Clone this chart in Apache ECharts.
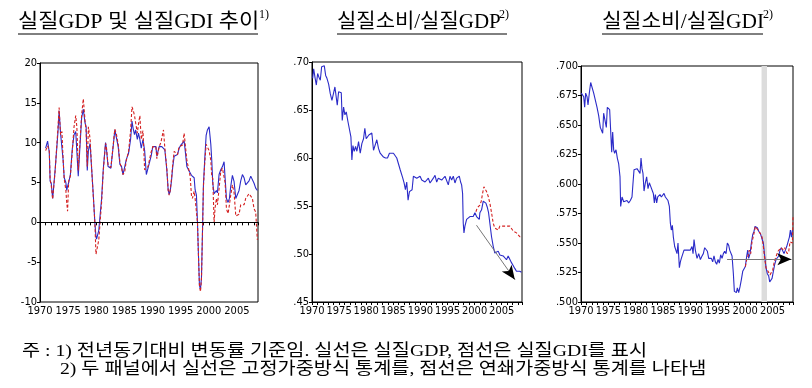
<!DOCTYPE html>
<html><head><meta charset="utf-8">
<script src="https://cdn.jsdelivr.net/npm/echarts@6/dist/echarts.min.js"></script>
<style>html,body{margin:0;padding:0;background:#fff}#c{width:812px;height:388px}</style>
</head><body><div id="c"></div>
<script>
// ---------- Panel 1: real GDP / real GDI growth (yoy, %) ----------
const p1Years = [1971.0,1971.35,1971.65,1971.8,1972.0,1972.25,1972.5,1972.7,1973.0,1973.2,1973.4,1973.65,1973.9,1974.1,1974.3,1974.6,1974.75,1974.9,1975.1,1975.4,1975.75,1976.05,1976.35,1976.55,1976.8,1977.1,1977.4,1977.7,1978.0,1978.2,1978.4,1978.6,1978.9,1979.2,1979.45,1979.75,1979.95,1980.05,1980.45,1980.95,1981.25,1981.65,1981.8,1982.1,1982.6,1983.0,1983.3,1983.6,1983.9,1984.2,1984.5,1984.75,1985.05,1985.35,1985.75,1986.1,1986.35,1986.55,1986.8,1987.0,1987.3,1987.5,1987.75,1988.0,1988.3,1988.6,1988.9,1989.2,1989.75,1990.05,1990.3,1990.6,1990.77,1991.18,1991.48,1991.66,1991.95,1992.19,1992.54,1992.78,1992.96,1993.14,1993.37,1993.6,1993.85,1994.14,1994.44,1994.73,1995.03,1995.33,1995.62,1995.8,1996.1,1996.39,1996.69,1996.92,1997.1,1997.4,1997.57,1997.81,1997.99,1998.17,1998.34,1998.52,1998.7,1998.88,1999.05,1999.29,1999.53,1999.76,2000.06,2000.36,2000.53,2000.71,2000.95,2001.12,2001.36,2001.54,2001.83,2002.13,2002.43,2002.72,2002.9,2003.14,2003.43,2003.67,2003.9,2004.2,2004.5,2004.8,2005.09,2005.38,2005.68,2005.98,2006.27,2006.57,2006.86,2007.16,2007.46,2007.75,2008.05,2008.34,2008.64];
const p1GDP = [9.3,10.2,8.8,5.2,4.9,3.0,3.0,6.7,9.5,11.4,14.0,11.2,11.2,7.9,5.6,5.0,4.0,4.5,5.0,6.0,9.3,11.0,11.4,11.4,5.8,9.5,13.1,14.2,12.5,12.0,6.5,9.0,9.9,6.5,3.7,0.0,-1.8,-2.1,-1.0,3.0,6.7,10.0,9.3,7.0,6.8,9.5,11.6,11.4,9.5,7.3,7.0,6.0,6.2,7.9,8.7,10.4,12.7,11.8,11.0,11.6,10.4,11.2,10.4,9.3,10.4,9.0,6.0,6.8,8.3,9.5,9.5,9.5,8.3,9.5,9.5,9.5,9.3,9.1,6.6,4.1,3.5,3.9,5.2,7.0,8.3,8.1,8.5,9.3,9.7,9.5,10.2,9.1,7.0,6.6,6.8,5.9,6.1,5.6,4.1,3.4,0.0,-4.2,-7.9,-8.4,-7.0,-1.2,4.7,8.0,10.9,11.6,12.0,9.8,7.8,4.9,3.6,3.7,4.0,3.7,6.0,6.6,7.0,7.6,5.6,3.0,2.5,3.0,4.5,5.9,5.1,3.0,3.0,4.0,5.2,6.0,5.6,4.7,4.5,5.2,5.8,5.6,4.9,4.3,4.0];
const p1GDI = [9.0,9.6,9.0,5.4,4.6,2.9,3.0,6.5,9.8,12.0,14.4,11.0,11.4,8.0,5.5,4.0,2.5,1.4,5.2,5.8,9.0,12.0,13.4,12.0,6.5,10.0,13.5,15.5,12.8,11.5,7.0,12.0,10.5,6.5,3.5,0.0,-4.0,-3.8,-2.2,2.5,6.5,9.9,9.5,7.2,6.9,9.6,11.7,11.0,9.8,7.5,6.8,6.0,6.3,7.8,8.9,11.5,14.5,14.1,13.4,12.5,11.2,12.3,13.4,10.4,11.5,6.6,6.6,7.0,8.8,9.5,9.5,9.5,8.0,9.5,10.0,10.2,11.6,9.3,6.8,4.0,3.4,4.0,5.4,7.4,8.9,9.0,8.5,9.5,9.7,9.7,11.2,9.9,7.8,6.8,5.8,3.4,3.0,3.9,3.0,3.0,0.0,-4.2,-7.9,-8.7,-7.2,-1.4,4.5,7.5,9.8,9.7,9.0,7.8,5.8,5.5,0.0,1.8,3.0,2.2,4.2,6.4,6.8,6.6,5.0,1.7,1.1,2.2,3.4,4.7,3.7,0.8,0.8,1.0,2.2,2.0,2.2,3.0,2.8,3.6,3.8,3.0,1.7,1.3,-2.2];

// ---------- Panel 2: real consumption / real GDP ----------
const p2Years = [1970.12,1970.31,1970.55,1970.80,1971.04,1971.29,1971.53,1971.78,1972.02,1972.27,1972.52,1972.76,1973.07,1973.37,1973.68,1973.99,1974.23,1974.48,1974.66,1974.91,1975.21,1975.40,1975.58,1975.83,1976.07,1976.32,1976.63,1976.93,1977.18,1977.36,1977.55,1977.79,1978.04,1978.28,1978.59,1978.90,1979.20,1979.51,1979.75,1980.00,1980.25,1980.49,1980.74,1981.04,1981.35,1981.66,1981.96,1982.27,1982.58,1982.88,1983.19,1983.56,1983.93,1984.29,1984.60,1985.03,1985.34,1985.64,1985.95,1986.26,1986.50,1986.75,1986.99,1987.24,1987.48,1987.73,1987.98,1988.22,1988.47,1988.71,1989.02,1989.33,1989.63,1989.94,1990.25,1990.55,1990.86,1991.17,1991.47,1991.78,1992.09,1992.39,1992.70,1993.01,1993.31,1993.62,1993.93,1994.23,1994.54,1994.85,1995.15,1995.46,1995.77,1996.07,1996.38,1996.69,1996.99,1997.18,1997.42,1997.61,1997.79,1997.91,1998.04,1998.22,1998.53,1998.83,1999.14,1999.45,1999.75,2000.06,2000.37,2000.61,2000.86,2000.98,2001.29,2001.60,2001.78,2002.09,2002.33,2002.58,2002.82,2003.13,2003.44,2003.74,2004.05,2004.36,2004.66,2004.97,2005.28,2005.58,2005.89,2006.20,2006.50,2006.81,2007.12,2007.42,2007.73,2008.04,2008.34,2008.65];
const p2Fixed = [0.683,0.693,0.684,0.676,0.688,0.684,0.681,0.695,0.697,0.696,0.686,0.683,0.677,0.667,0.660,0.658,0.674,0.672,0.655,0.669,0.669,0.668,0.639,0.653,0.645,0.648,0.638,0.636,0.622,0.598,0.613,0.607,0.612,0.607,0.617,0.605,0.615,0.620,0.631,0.620,0.621,0.624,0.622,0.626,0.608,0.610,0.619,0.610,0.605,0.603,0.601,0.600,0.600,0.605,0.605,0.605,0.603,0.600,0.594,0.588,0.589,0.579,0.574,0.567,0.575,0.556,0.565,0.563,0.567,0.581,0.581,0.579,0.581,0.581,0.577,0.579,0.575,0.577,0.579,0.574,0.575,0.579,0.582,0.575,0.579,0.581,0.577,0.575,0.581,0.579,0.572,0.581,0.577,0.581,0.574,0.579,0.577,0.581,0.575,0.572,0.563,0.532,0.522,0.529,0.536,0.534,0.539,0.541,0.539,0.543,0.539,0.541,0.536,0.543,0.546,0.555,0.556,0.553,0.549,0.543,0.532,0.518,0.508,0.501,0.501,0.503,0.499,0.499,0.498,0.496,0.494,0.498,0.496,0.491,0.489,0.485,0.482,0.483,0.482,0.481];
const p2ChainYears = [2000.25,2000.49,2000.74,2000.98,2001.23,2001.47,2001.72,2001.96,2002.21,2002.52,2002.82,2003.13,2003.44,2003.74,2004.05,2004.36,2004.66,2004.97,2005.28,2005.58,2005.89,2006.20,2006.50,2006.81,2007.12,2007.42,2007.73,2008.04,2008.34,2008.65];
const p2Chain = [0.544,0.548,0.549,0.551,0.555,0.563,0.570,0.569,0.565,0.560,0.553,0.543,0.532,0.527,0.525,0.525,0.529,0.530,0.529,0.529,0.529,0.527,0.529,0.527,0.524,0.522,0.522,0.520,0.518,0.518];
const p2Arrow = [[2000.35, 0.530], [2007.42, 0.4734]];

// ---------- Panel 3: real consumption / real GDI ----------
const p3Years = [1970.06,1970.24,1970.49,1970.67,1970.85,1971.10,1971.28,1971.52,1971.77,1972.01,1972.32,1972.62,1972.93,1973.23,1973.53,1973.72,1973.96,1974.14,1974.45,1974.63,1974.81,1975.06,1975.24,1975.42,1975.61,1975.79,1975.97,1976.15,1976.40,1976.64,1976.89,1977.13,1977.25,1977.50,1977.80,1978.10,1978.41,1978.71,1979.02,1979.32,1979.51,1979.69,1979.93,1980.24,1980.54,1980.79,1980.97,1981.15,1981.33,1981.52,1981.76,1982.00,1982.25,1982.49,1982.74,1982.98,1983.22,1983.41,1983.59,1983.83,1984.02,1984.20,1984.44,1984.69,1984.93,1985.17,1985.42,1985.66,1985.90,1986.15,1986.33,1986.51,1986.70,1986.88,1987.12,1987.37,1987.55,1987.73,1987.98,1988.16,1988.34,1988.59,1988.83,1989.07,1989.38,1989.68,1989.99,1990.29,1990.48,1990.66,1990.90,1991.21,1991.51,1991.82,1992.12,1992.36,1992.61,1992.85,1993.10,1993.34,1993.58,1993.83,1994.07,1994.31,1994.56,1994.80,1995.05,1995.29,1995.53,1995.78,1996.02,1996.26,1996.51,1996.75,1997.00,1997.18,1997.36,1997.61,1997.85,1998.03,1998.21,1998.40,1998.58,1998.82,1999.07,1999.31,1999.56,1999.80,2000.04,2000.29,2000.47,2000.65,2000.90,2001.14,2001.38,2001.63,2001.81,2001.99,2002.24,2002.48,2002.79,2003.09,2003.33,2003.58,2003.82,2004.06,2004.31,2004.49,2004.67,2004.92,2005.16,2005.41,2005.65,2005.89,2006.14,2006.38,2006.62,2006.87,2007.11,2007.36,2007.60,2007.84,2008.09,2008.27,2008.46,2008.64];
const p3Fixed = [0.677,0.678,0.674,0.665,0.677,0.674,0.667,0.677,0.686,0.685,0.677,0.671,0.665,0.658,0.648,0.648,0.643,0.660,0.661,0.648,0.665,0.664,0.663,0.664,0.627,0.644,0.629,0.626,0.629,0.622,0.617,0.606,0.581,0.589,0.585,0.585,0.586,0.584,0.586,0.589,0.601,0.612,0.612,0.613,0.613,0.609,0.622,0.613,0.609,0.594,0.601,0.606,0.596,0.601,0.598,0.598,0.592,0.584,0.591,0.584,0.589,0.588,0.591,0.589,0.589,0.592,0.589,0.589,0.586,0.581,0.567,0.561,0.565,0.555,0.547,0.546,0.541,0.550,0.529,0.534,0.537,0.536,0.544,0.543,0.544,0.543,0.544,0.547,0.541,0.553,0.544,0.537,0.541,0.536,0.539,0.541,0.546,0.547,0.543,0.537,0.537,0.537,0.534,0.539,0.534,0.532,0.536,0.533,0.540,0.537,0.541,0.543,0.541,0.550,0.548,0.544,0.543,0.539,0.524,0.509,0.508,0.508,0.512,0.508,0.513,0.519,0.526,0.527,0.530,0.539,0.544,0.537,0.541,0.550,0.557,0.560,0.564,0.563,0.563,0.560,0.558,0.557,0.550,0.539,0.529,0.524,0.522,0.517,0.517,0.520,0.526,0.532,0.536,0.537,0.539,0.544,0.546,0.546,0.541,0.544,0.547,0.546,0.555,0.561,0.555,0.561];
const p3ChainYears = [2000.04,2000.29,2000.53,2000.77,2001.02,2001.26,2001.57,2001.87,2002.18,2002.48,2002.79,2003.09,2003.33,2003.58,2003.82,2004.06,2004.31,2004.55,2004.80,2005.04,2005.28,2005.53,2005.77,2006.01,2006.26,2006.50,2006.75,2007.00,2007.24,2007.48,2007.72,2007.97,2008.21,2008.46,2008.64,2008.75];
const p3Chain = [0.530,0.536,0.539,0.544,0.541,0.551,0.557,0.564,0.563,0.560,0.558,0.555,0.547,0.537,0.529,0.527,0.526,0.523,0.522,0.527,0.533,0.537,0.540,0.543,0.544,0.546,0.547,0.544,0.546,0.543,0.541,0.543,0.551,0.551,0.550,0.572];
const p3Shade = [2003.0, 2004.0];
const p3Arrow = [[1996.7, 0.5363], [2008.45, 0.5363]];

// ---------- Text ----------
const titles = ['실질GDP 및 실질GDI 추이', '실질소비/실질GDP', '실질소비/실질GDI'];
const titleSups = ['1)', '2)', '2)'];
const notes = ['주 : 1) 전년동기대비 변동률 기준임. 실선은 실질GDP, 점선은 실질GDI를 표시',
               '2) 두 패널에서 실선은 고정가중방식 통계를, 점선은 연쇄가중방식 통계를 나타냄'];

const BLUE = '#2b2bc8', RED = '#d42020';
const NUM = "'Liberation Sans Narrow','DejaVu Sans Condensed',sans-serif";
const SERIF = "'Liberation Serif','Noto Sans CJK KR',serif";

const pairs = (xs, ys) => xs.map((x, i) => [x, ys[i]]);

const grids = [
  {left: 40, top: 63, width: 218, height: 239},
  {left: 312, top: 62, width: 210, height: 240},
  {left: 581, top: 66, width: 212, height: 236}
].map(g => Object.assign({show: true, borderColor: '#000', borderWidth: 1, backgroundColor: 'transparent'}, g));

function xAx(i) {
  return {
    type: 'value', gridIndex: i, min: 1970, max: 2008.75, interval: 1,
    axisLine: {lineStyle: {color: '#000', width: 1}},
    axisTick: {show: true, length: 3, lineStyle: {color: '#000'}},
    splitLine: {show: false},
    axisLabel: {color: '#000', fontFamily: NUM, fontSize: 11, margin: 4,
      formatter: v => (Math.abs(v % 5) < 1e-6 ? String(v) : '')}
  };
}
function yAx(i, min, max, interval, fmt) {
  return {
    type: 'value', gridIndex: i, min, max, interval,
    axisLine: {show: true, lineStyle: {color: '#000', width: 1}},
    axisTick: {show: true, length: 3, lineStyle: {color: '#000'}},
    splitLine: {show: false},
    axisLabel: {color: '#000', fontFamily: NUM, fontSize: 11, margin: 3, formatter: fmt}
  };
}
const dec = n => v => v.toFixed(n).replace(/^0/, '');

function arrowLines(arr) {
  const [a, b] = arr;
  const t = 0.12;
  const h = [a[0] + (b[0] - a[0]) * (1 - t), a[1] + (b[1] - a[1]) * (1 - t)];
  return [
    [{coord: a, symbol: 'none', lineStyle: {color: '#777', width: 1, type: 'solid'}},
     {coord: b, symbol: 'none'}],
    [{coord: h, symbol: 'none', lineStyle: {color: '#000', width: 0.5, type: 'solid'}},
     {coord: b, symbol: 'arrow'}]
  ];
}

const lineBase = {type: 'line', showSymbol: false, symbol: 'none', animation: false, smooth: false};

const series = [
  Object.assign({}, lineBase, {name: 'GDP', xAxisIndex: 0, yAxisIndex: 0, data: pairs(p1Years, p1GDP),
    lineStyle: {color: BLUE, width: 1.1}, z: 3,
    markLine: {silent: true, symbol: 'none', label: {show: false}, animation: false,
      lineStyle: {color: '#000', width: 1, type: 'solid'}, data: [{yAxis: 0}]}}),
  Object.assign({}, lineBase, {name: 'GDI', xAxisIndex: 0, yAxisIndex: 0, data: pairs(p1Years, p1GDI),
    lineStyle: {color: RED, width: 1.1, type: [3, 2]}, z: 4}),
  Object.assign({}, lineBase, {name: 'C/GDP fixed', xAxisIndex: 1, yAxisIndex: 1, data: pairs(p2Years, p2Fixed),
    lineStyle: {color: BLUE, width: 1.1}, z: 3,
    markLine: {silent: true, label: {show: false}, animation: false, symbolSize: [9, 14],
      data: arrowLines(p2Arrow)}}),
  Object.assign({}, lineBase, {name: 'C/GDP chain', xAxisIndex: 1, yAxisIndex: 1, data: pairs(p2ChainYears, p2Chain),
    lineStyle: {color: RED, width: 1.1, type: [3, 2]}, z: 4}),
  Object.assign({}, lineBase, {name: 'C/GDI fixed', xAxisIndex: 2, yAxisIndex: 2, data: pairs(p3Years, p3Fixed),
    lineStyle: {color: BLUE, width: 1.1}, z: 3,
    markArea: {silent: true, itemStyle: {color: '#dcdcdc'}, data: [[{xAxis: p3Shade[0]}, {xAxis: p3Shade[1]}]]},
    markLine: {silent: true, label: {show: false}, animation: false, symbolSize: [9, 14],
      data: arrowLines(p3Arrow)}}),
  Object.assign({}, lineBase, {name: 'C/GDI chain', xAxisIndex: 2, yAxisIndex: 2, data: pairs(p3ChainYears, p3Chain),
    lineStyle: {color: RED, width: 1.1, type: [3, 2]}, z: 4})
];

const titlePos = [
  {x: 18, y: 13, sc: 1.1, ux: [18, 258], sx: 259},
  {x: 337, y: 13, sc: 1.05, ux: [337, 507], sx: 499},
  {x: 602, y: 13, sc: 1.07, ux: [602, 763], sx: 763}
];
const graphic = [];
titles.forEach((t, i) => {
  const p = titlePos[i];
  graphic.push({type: 'text', x: p.x, y: p.y, scaleX: p.sc,
    style: {text: t, font: `20px ${SERIF}`, fill: '#000', textVerticalAlign: 'top'}});
  graphic.push({type: 'text', x: p.sx, y: p.y - 4,
    style: {text: titleSups[i], font: `12px ${SERIF}`, fill: '#000', textVerticalAlign: 'top'}});
  graphic.push({type: 'line', shape: {x1: p.ux[0], y1: 34, x2: p.ux[1], y2: 34}, style: {stroke: '#000', lineWidth: 1}});
});
graphic.push({type: 'text', x: 22, y: 343, scaleX: 1.16,
  style: {text: notes[0], font: `17px ${SERIF}`, fill: '#000', textVerticalAlign: 'top'}});
graphic.push({type: 'text', x: 60, y: 361, scaleX: 1.16,
  style: {text: notes[1], font: `17px ${SERIF}`, fill: '#000', textVerticalAlign: 'top'}});

const chart = echarts.init(document.getElementById('c'), null, {renderer: 'canvas'});
chart.setOption({
  animation: false,
  backgroundColor: '#fff',
  grid: grids,
  xAxis: [xAx(0), xAx(1), xAx(2)],
  yAxis: [yAx(0, -10, 20, 5, v => String(v)), yAx(1, 0.45, 0.70, 0.05, dec(2)), yAx(2, 0.5, 0.7, 0.025, dec(3))],
  series,
  graphic
});
</script></body></html>
